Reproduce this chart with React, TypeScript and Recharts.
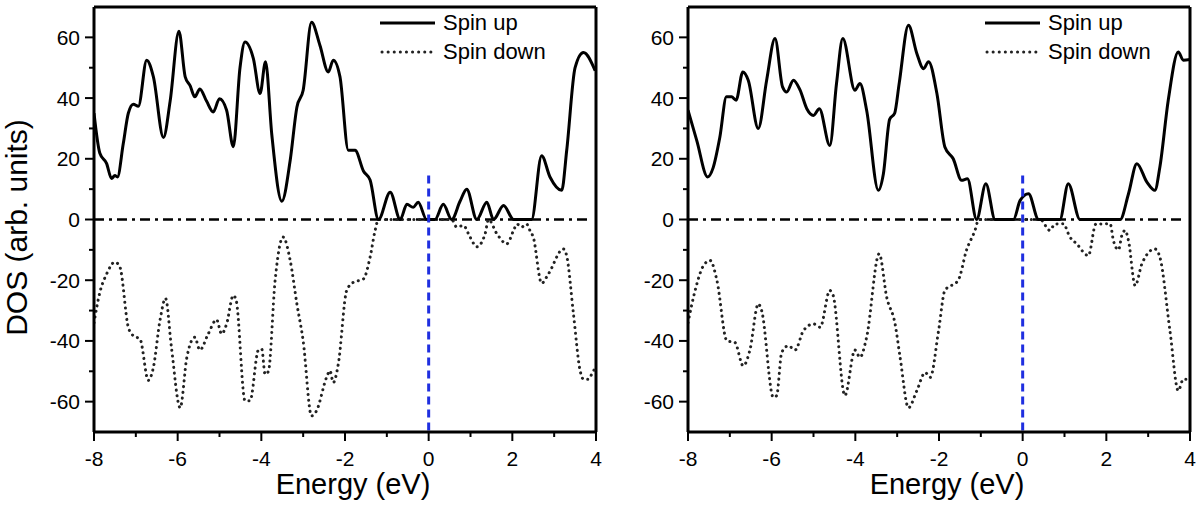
import React from 'react';
import { LineChart, Line, XAxis, YAxis, ReferenceLine } from 'recharts';

// left panel, spin up
const leftUpE = [-8, -7.86, -7.7, -7.58, -7.5, -7.44, -7.3, -7.18, -7.06, -6.94, -6.74, -6.58, -6.34, -6.18, -5.97, -5.82, -5.7, -5.59, -5.47, -5.31, -5.15, -5.0, -4.83, -4.67, -4.51, -4.39, -4.19, -4.03, -3.9, -3.75, -3.51, -3.31, -3.15, -3.0, -2.8, -2.6, -2.4, -2.28, -2.12, -1.92, -1.76, -1.56, -1.4, -1.2, -0.92, -0.68, -0.52, -0.37, -0.25, -0.05, 0.15, 0.35, 0.55, 0.75, 0.91, 1.15, 1.39, 1.55, 1.79, 2.03, 2.46, 2.7, 2.9, 3.18, 3.3, 3.5, 3.7, 3.98];
const leftUp = [35, 21.8, 18.5, 13.5, 14.5, 14, 25, 35, 38, 37.3, 52.5, 47, 27, 39, 62, 47, 44, 40.4, 43, 39, 35.4, 39.8, 36, 24, 50, 58.5, 53, 41.5, 52, 28, 6, 19.5, 37, 42.6, 65, 57.4, 48.6, 52.5, 47, 22.8, 22.8, 16, 13, 0, 9, 0, 5, 4, 5.7, 0, 0, 5, 0, 6, 10, 0, 5.7, 0, 4.6, 0, 0, 21, 14, 9.6, 22.8, 50, 55, 49];

// left panel, spin down
const leftDownE = [-8, -7.86, -7.7, -7.5, -7.38, -7.18, -7.06, -6.9, -6.7, -6.58, -6.42, -6.29, -6.15, -5.94, -5.78, -5.59, -5.47, -5.27, -5.07, -4.95, -4.83, -4.67, -4.6, -4.39, -4.27, -4.07, -3.99, -3.91, -3.83, -3.67, -3.48, -3.31, -3.15, -3.0, -2.8, -2.68, -2.44, -2.36, -2.28, -2.16, -1.96, -1.8, -1.56, -1.4, -1.28, -1.2, 0.55, 0.67, 0.83, 0.99, 1.15, 1.35, 1.43, 1.63, 1.87, 2.03, 2.11, 2.22, 2.34, 2.42, 2.5, 2.7, 2.86, 3.22, 3.3, 3.46, 3.62, 3.7, 3.82, 3.94, 4.0];
const leftDown = [-34, -24, -18, -14, -15.7, -35.5, -38.3, -39.4, -53, -48.7, -33, -26, -42, -62, -45.4, -38.8, -43, -37.7, -33, -37.7, -34.4, -25, -26.7, -59.7, -59.7, -43, -42.7, -51, -50, -20, -5.8, -13.5, -27.8, -40, -64.7, -63, -52, -49.8, -53.7, -47.6, -23.4, -20.7, -19.6, -12.4, -3.6, 0, 0, -2.5, -2, -5.8, -9, -4.7, 0, -4.7, -8, -3.6, -1.5, -2.5, -1.5, -3.6, -5.8, -21, -18, -9.7, -12, -31, -49.8, -52.6, -52.6, -49.8, -49];

// right panel, spin up
const rightUpE = [-8, -7.79, -7.53, -7.4, -7.24, -7.08, -6.96, -6.85, -6.69, -6.56, -6.32, -6.12, -5.92, -5.74, -5.64, -5.48, -5.32, -5.16, -5.0, -4.86, -4.61, -4.45, -4.3, -4.01, -3.89, -3.73, -3.45, -3.33, -3.18, -3.06, -2.95, -2.73, -2.53, -2.37, -2.25, -2.05, -1.86, -1.66, -1.46, -1.32, -1.1, -0.88, -0.66, -0.22, -0.06, 0.14, 0.38, 0.89, 1.09, 1.37, 2.33, 2.53, 2.73, 2.97, 3.16, 3.28, 3.48, 3.72, 3.84, 4.0];
const rightUp = [36, 26, 14, 17, 27, 40.4, 40.4, 39.3, 48.6, 45.9, 30, 45.9, 59.6, 43.7, 42, 45.9, 42.6, 36.5, 34.3, 36.5, 24.4, 44.8, 59.6, 42.6, 44.8, 36, 9.6, 15, 33, 35, 45, 64, 54.7, 49.7, 52, 41.5, 23.9, 20, 12.9, 13.4, 0, 11.8, 0, 0, 6.3, 8.5, 0, 0, 11.8, 0, 0, 8.5, 18.4, 12.3, 9.6, 17.3, 39.3, 55.2, 52.5, 52.7];

// right panel, spin down
const rightDownE = [-8, -7.83, -7.63, -7.47, -7.31, -7.07, -6.88, -6.68, -6.52, -6.32, -6.24, -5.96, -5.88, -5.76, -5.6, -5.44, -5.24, -5.0, -4.84, -4.61, -4.53, -4.25, -4.01, -3.89, -3.73, -3.43, -3.25, -3.05, -2.93, -2.73, -2.53, -2.33, -2.21, -2.01, -1.86, -1.54, -1.34, -1.14, -1.05, 0.42, 0.65, 0.77, 0.97, 1.13, 1.29, 1.57, 1.75, 2.09, 2.17, 2.29, 2.37, 2.45, 2.53, 2.69, 2.85, 3.16, 3.28, 3.52, 3.72, 3.84, 4.0];
const rightDown = [-34, -23.4, -15.2, -13.5, -20, -40, -40.5, -48.2, -43, -27.8, -30, -58.6, -58, -43.8, -41.6, -43, -36.6, -34.4, -35.5, -23.4, -25, -58, -43, -45.4, -38.8, -11.3, -25.6, -34.4, -45.4, -62, -56.4, -50.4, -52, -36.6, -23.4, -20, -10, -3.6, 0, 0, -3.6, -1.5, -1.4, -5.8, -8, -11.9, -1.5, -1.4, -7, -10, -5.3, -3.6, -7, -21.8, -14.6, -9.7, -12.4, -36.6, -56.4, -52.6, -52.6];

const xTicks = [-8, -7, -6, -5, -4, -3, -2, -1, 0, 1, 2, 3, 4];
const yTicks = [-60, -50, -40, -30, -20, -10, 0, 10, 20, 30, 40, 50, 60];

const TS = 9;
const TM = 4;

const zip = (e: number[], v: number[]) => e.map((x, i) => ({ e: x, v: v[i] }));

const XTick = (props: any) => {
  const { x, y, payload } = props;
  const axisY = y - TS - TM;
  const major = payload.value % 2 === 0;
  return (
    <g>
      <line x1={x} x2={x} y1={axisY} y2={axisY + (major ? 9 : 5)} stroke="#000" strokeWidth={2} />
      {major && (
        <text x={x} y={axisY + 26} textAnchor="middle" dominantBaseline="central" fontSize={21} fill="#000">
          {payload.value}
        </text>
      )}
    </g>
  );
};

const YTick = (props: any) => {
  const { x, y, payload } = props;
  const axisX = x + TS + TM;
  const major = payload.value % 20 === 0;
  return (
    <g>
      <line x1={axisX} x2={axisX - (major ? 9 : 5)} y1={y} y2={y} stroke="#000" strokeWidth={2} />
      {major && (
        <text x={axisX - 14} y={y} textAnchor="end" dominantBaseline="central" fontSize={21} fill="#000">
          {payload.value}
        </text>
      )}
    </g>
  );
};

function Panel({ up, down, left, legendLeft, yLabel }: any) {
  return (
    <div style={{ position: 'absolute', left, top: 0, width: 604, height: 506 }}>
      <LineChart width={604} height={506} margin={{ top: 7, right: 8, left: 0, bottom: 0 }}>
        <XAxis
          dataKey="e"
          type="number"
          domain={[-8, 4]}
          ticks={xTicks}
          interval={0}
          allowDataOverflow
          height={74}
          tickSize={TS}
          tickMargin={TM}
          tickLine={false}
          tick={XTick}
          axisLine={{ stroke: '#000', strokeWidth: 3 }}
          label={{
            content: ({ viewBox }: any) => (
              <text x={viewBox.x + viewBox.width / 2 + 8} y={494} textAnchor="middle" fontSize={29} fill="#000">
                Energy (eV)
              </text>
            ),
          }}
        />
        <YAxis
          type="number"
          domain={[-70, 70]}
          ticks={yTicks}
          interval={0}
          allowDataOverflow
          width={94}
          tickSize={TS}
          tickMargin={TM}
          tickLine={false}
          tick={YTick}
          axisLine={{ stroke: '#000', strokeWidth: 3 }}
          label={
            yLabel
              ? {
                  content: ({ viewBox }: any) => {
                    const cy = viewBox.y + viewBox.height / 2 + 8;
                    return (
                      <text x={27} y={cy} transform={`rotate(-90, 27, ${cy})`} textAnchor="middle" fontSize={30} fill="#000">
                        DOS (arb. units)
                      </text>
                    );
                  },
                }
              : undefined
          }
        />
        <ReferenceLine y={70} stroke="#000" strokeWidth={3} />
        <ReferenceLine x={4} stroke="#000" strokeWidth={3} />
        <ReferenceLine
          segment={[{ x: -8, y: 0 }, { x: 3.85, y: 0 }]}
          stroke="#000"
          strokeWidth={2.5}
          strokeDasharray="10 5 3 5"
        />
        <Line
          data={down}
          dataKey="v"
          type="monotone"
          stroke="#222"
          strokeWidth={3}
          strokeDasharray="0.1 5.6"
          strokeLinecap="round"
          dot={false}
          isAnimationActive={false}
        />
        <Line
          data={up}
          dataKey="v"
          type="monotone"
          stroke="#000"
          strokeWidth={3}
          dot={false}
          isAnimationActive={false}
        />
        <ReferenceLine
          segment={[{ x: 0, y: 14.5 }, { x: 0, y: -70 }]}
          stroke="#1f2fe0"
          strokeWidth={3}
          strokeDasharray="8 5"
        />
      </LineChart>
      <div style={{ position: 'absolute', left: legendLeft, top: 8, fontSize: 22, lineHeight: '29px', color: '#000' }}>
        <div style={{ display: 'flex', alignItems: 'center' }}>
          <svg width={60} height={29}>
            <line x1={0} x2={55} y1={15} y2={15} stroke="#000" strokeWidth={3} />
          </svg>
          <span style={{ marginLeft: 3 }}>Spin up</span>
        </div>
        <div style={{ display: 'flex', alignItems: 'center' }}>
          <svg width={60} height={29}>
            <line x1={2} x2={55} y1={15} y2={15} stroke="#222" strokeWidth={3} strokeDasharray="0.1 6" strokeLinecap="round" />
          </svg>
          <span style={{ marginLeft: 3 }}>Spin down</span>
        </div>
      </div>
    </div>
  );
}

export default function App() {
  return (
    <div
      style={{
        position: 'absolute',
        left: 0,
        top: 0,
        width: 1200,
        height: 506,
        overflow: 'hidden',
        background: '#fff',
        fontFamily: '"Liberation Sans", Arial, sans-serif',
      }}
    >
      <Panel up={zip(leftUpE, leftUp)} down={zip(leftDownE, leftDown)} left={0} legendLeft={380} yLabel />
      <Panel up={zip(rightUpE, rightUp)} down={zip(rightDownE, rightDown)} left={594} legendLeft={391} />
    </div>
  );
}
